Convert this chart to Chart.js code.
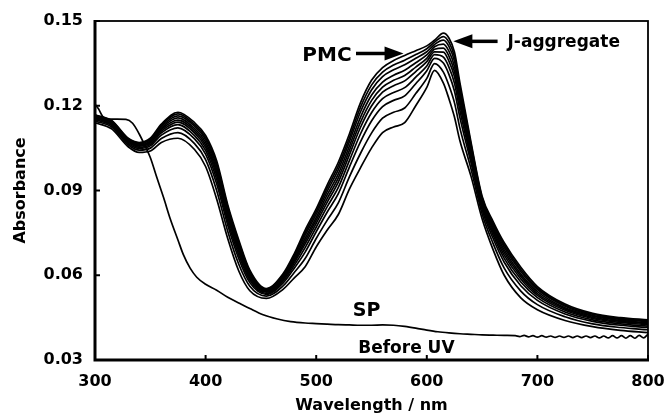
<!DOCTYPE html>
<html>
<head>
<meta charset="utf-8">
<script src="https://cdn.jsdelivr.net/npm/chart.js@4.4.1/dist/chart.umd.min.js"></script>
<style>
  html, body { margin: 0; padding: 0; background: #fff; }
</style>
</head>
<body>
<canvas id="spec" width="668" height="414"></canvas>
<script>
// 波長 (nm)
const wavelengths = [300,315,330,340,350,360,375,390,400,410,420,430,440,455,470,480,490,500,510,520,530,540,550,560,570,580,590,600,607,615,620,625,630,640,650,660,670,685,700,725,750,775,800];

// UV照射後 (下のスペクトルから順に)
const pmc1  = [.1140,.1118,.1055,.1035,.1040,.1070,.1085,.1045,.0985,.0870,.0730,.0615,.0545,.0518,.0550,.0590,.0630,.0700,.0760,.0815,.0905,.0980,.1050,.1105,.1125,.1140,.1200,.1265,.1325,.1280,.1225,.1160,.1075,.0950,.0800,.0690,.0600,.0520,.0478,.0440,.0418,.0405,.0397];
const pmc2  = [.1146,.1125,.1062,.1043,.1050,.1084,.1105,.1066,.1009,.0900,.0756,.0639,.0561,.0526,.0562,.0609,.0659,.0730,.0795,.0856,.0948,.1031,.1103,.1156,.1177,.1192,.1243,.1297,.1349,.1319,.1272,.1211,.1120,.0976,.0818,.0712,.0625,.0544,.0496,.0453,.0428,.0415,.0407];
const pmc3  = [.1151,.1130,.1067,.1049,.1058,.1096,.1122,.1083,.1029,.0924,.0778,.0659,.0574,.0532,.0572,.0624,.0682,.0754,.0824,.0889,.0983,.1072,.1146,.1197,.1219,.1235,.1278,.1324,.1368,.1351,.1311,.1252,.1157,.0998,.0832,.0730,.0646,.0563,.0511,.0463,.0437,.0423,.0415];
const pmc4  = [.1155,.1134,.1071,.1053,.1063,.1104,.1133,.1094,.1042,.0940,.0792,.0672,.0583,.0536,.0579,.0634,.0698,.0770,.0843,.0911,.1006,.1100,.1175,.1225,.1247,.1264,.1301,.1341,.1381,.1372,.1337,.1280,.1182,.1012,.0842,.0742,.0660,.0576,.0521,.0470,.0442,.0428,.0420];
const pmc5  = [.1157,.1137,.1074,.1057,.1068,.1110,.1142,.1104,.1053,.0954,.0804,.0683,.0590,.0540,.0584,.0643,.0711,.0784,.0859,.0930,.1026,.1123,.1199,.1248,.1271,.1288,.1321,.1356,.1391,.1390,.1358,.1303,.1202,.1024,.0850,.0752,.0671,.0587,.0529,.0476,.0447,.0433,.0425];
const pmc6  = [.1160,.1139,.1076,.1060,.1072,.1116,.1149,.1112,.1062,.0965,.0814,.0692,.0596,.0543,.0589,.0650,.0721,.0795,.0872,.0945,.1042,.1141,.1218,.1266,.1290,.1307,.1337,.1368,.1400,.1404,.1376,.1321,.1219,.1034,.0856,.0760,.0681,.0596,.0535,.0481,.0451,.0437,.0429];
const pmc7  = [.1162,.1141,.1078,.1062,.1075,.1121,.1157,.1119,.1071,.0975,.0824,.0701,.0602,.0545,.0593,.0656,.0731,.0805,.0885,.0959,.1057,.1159,.1237,.1284,.1308,.1326,.1352,.1380,.1409,.1418,.1393,.1339,.1235,.1044,.0862,.0768,.0690,.0604,.0542,.0485,.0455,.0440,.0432];
const pmc8  = [.1164,.1144,.1081,.1065,.1079,.1126,.1164,.1127,.1080,.0986,.0833,.0710,.0608,.0548,.0597,.0663,.0742,.0816,.0898,.0974,.1073,.1178,.1256,.1303,.1327,.1345,.1368,.1391,.1417,.1432,.1410,.1358,.1251,.1053,.0869,.0776,.0699,.0613,.0549,.0490,.0458,.0444,.0436];
const pmc9  = [.1166,.1146,.1083,.1068,.1082,.1131,.1171,.1133,.1087,.0996,.0842,.0717,.0613,.0551,.0601,.0669,.0751,.0826,.0909,.0987,.1086,.1194,.1273,.1319,.1344,.1361,.1381,.1402,.1425,.1445,.1425,.1374,.1266,.1062,.0874,.0783,.0707,.0620,.0554,.0494,.0462,.0447,.0439];
const pmc10 = [.1168,.1148,.1085,.1070,.1085,.1135,.1177,.1140,.1095,.1005,.0850,.0725,.0618,.0553,.0605,.0675,.0760,.0835,.0920,.1000,.1100,.1210,.1290,.1335,.1360,.1378,.1395,.1412,.1432,.1457,.1440,.1390,.1280,.1070,.0880,.0790,.0715,.0628,.0560,.0498,.0465,.0450,.0442];

// 照射前 (SP)
const spWavelengths = [300,303,307,312,320,328,334,340,345,350,356,362,368,375,380,386,392,400,410,420,431,440,452,465,477,490,500,510,520,530,540,550,560,570,580,590,600,610,620,630,640,650,660,670,680,684,688,692,696,700,704,708,712,716,720,724,728,732,736,740,744,748,752,756,760,764,768,772,776,780,784,788,792,796,800];
const spAbs = [.1205,.1190,.1162,.1153,.1153,.1152,.1138,.1100,.1060,.1017,.0945,.0875,.0800,.0725,.0672,.0625,.0593,.0568,.0547,.0522,.0500,.0482,.0460,.0445,.0436,.0431,.0429,.0427,.0425,.0424,.0423,.0423,.0424,.0423,.0419,.0413,.0406,.0400,.0396,.0393,.0391,.0389,.0388,.0387,.0386,.0383,.0387,.0382,.0386,.0381,.0386,.0381,.0385,.0380,.0385,.0380,.0385,.0379,.0385,.0379,.0385,.0379,.0385,.0378,.0385,.0378,.0386,.0378,.0386,.0377,.0386,.0377,.0387,.0378,.0392];

const xTicks = [300, 400, 500, 600, 700, 800];
const yTicks = [0.03, 0.06, 0.09, 0.12, 0.15];

const FONT = "'DejaVu Sans', sans-serif";

const pmcSeries = [pmc1, pmc2, pmc3, pmc4, pmc5, pmc6, pmc7, pmc8, pmc9, pmc10];
const datasets = pmcSeries.map((s, i) => ({
  label: 'PMC ' + (i + 1),
  data: wavelengths.map((w, j) => ({ x: w, y: s[j] }))
}));
datasets.push({
  label: 'SP',
  data: spWavelengths.map((w, j) => ({ x: w, y: spAbs[j] }))
});
datasets.forEach(d => {
  d.borderColor = '#000';
  d.borderWidth = 1.7;
  d.pointRadius = 0;
  d.fill = false;
  d.cubicInterpolationMode = 'monotone';
});

function arrow(ctx, x1, y, x2) {
  // x2 が矢じりの先端
  const dir = Math.sign(x2 - x1);
  const headLen = 19, headH = 7;
  ctx.lineWidth = 3.5;
  ctx.beginPath();
  ctx.moveTo(x1, y);
  ctx.lineTo(x2 - dir * headLen + dir * 2, y);
  ctx.stroke();
  ctx.beginPath();
  ctx.moveTo(x2, y);
  ctx.lineTo(x2 - dir * headLen, y - headH);
  ctx.lineTo(x2 - dir * headLen, y + headH);
  ctx.closePath();
  ctx.fill();
}

// 枠・内向き目盛・軸タイトル・注記
const decor = {
  id: 'decor',
  afterDatasetsDraw(chart) {
    const { ctx, chartArea: a, scales: { x, y } } = chart;
    ctx.save();
    ctx.strokeStyle = '#000';
    ctx.fillStyle = '#000';

    ctx.lineWidth = 2;
    xTicks.forEach(v => {
      const px = x.getPixelForValue(v);
      ctx.beginPath(); ctx.moveTo(px, a.bottom); ctx.lineTo(px, a.bottom - 5); ctx.stroke();
    });
    yTicks.forEach(v => {
      const py = y.getPixelForValue(v);
      ctx.beginPath(); ctx.moveTo(a.left, py); ctx.lineTo(a.left + 5, py); ctx.stroke();
    });

    ctx.lineWidth = 1.8;
    ctx.strokeRect(a.left, a.top, a.right - a.left, a.bottom - a.top);
    ctx.lineWidth = 3;
    ctx.beginPath();
    ctx.moveTo(a.left, a.top - 1); ctx.lineTo(a.left, a.bottom); ctx.lineTo(a.right + 1, a.bottom);
    ctx.stroke();

    // 軸タイトル
    ctx.font = 'bold 16px ' + FONT;
    ctx.textAlign = 'center';
    ctx.textBaseline = 'alphabetic';
    ctx.fillText('Wavelength / nm', (a.left + a.right) / 2, 410);
    ctx.save();
    ctx.translate(21, (a.top + a.bottom) / 2);
    ctx.rotate(-Math.PI / 2);
    ctx.textBaseline = 'middle';
    ctx.fillText('Absorbance', 0, 0);
    ctx.restore();

    // 注記
    ctx.textBaseline = 'middle';
    const pmcY = y.getPixelForValue(0.1385);
    arrow(ctx, x.getPixelForValue(536), pmcY, x.getPixelForValue(579));
    ctx.font = 'bold 20px ' + FONT;
    ctx.textAlign = 'right';
    ctx.fillText('PMC', x.getPixelForValue(532), pmcY + 2);

    const jY = y.getPixelForValue(0.1428);
    arrow(ctx, x.getPixelForValue(664), jY, x.getPixelForValue(624));
    ctx.font = 'bold 17px ' + FONT;
    ctx.textAlign = 'left';
    ctx.fillText('J-aggregate', x.getPixelForValue(673), jY + 1);

    ctx.font = 'bold 19px ' + FONT;
    ctx.fillText('SP', x.getPixelForValue(533), y.getPixelForValue(0.0472));
    ctx.font = 'bold 17px ' + FONT;
    ctx.fillText('Before UV', x.getPixelForValue(538), y.getPixelForValue(0.0341));

    ctx.restore();
  }
};

new Chart(document.getElementById('spec'), {
  type: 'line',
  data: { datasets },
  options: {
    responsive: false,
    animation: false,
    layout: { padding: { top: 21, right: 20, left: 0, bottom: 0 } },
    plugins: { legend: { display: false }, tooltip: { enabled: false } },
    scales: {
      x: {
        type: 'linear',
        min: 300,
        max: 800,
        afterBuildTicks: s => { s.ticks = xTicks.map(v => ({ value: v })); },
        afterFit: s => { s.height = 54; s.paddingLeft = 0; s.paddingRight = 0; },
        grid: { display: false, drawTicks: false },
        border: { display: false },
        ticks: {
          color: '#000',
          font: { family: FONT, size: 16, weight: 'bold' },
          padding: 12,
          maxRotation: 0,
          autoSkip: false,
          callback: v => v
        }
      },
      y: {
        min: 0.03,
        max: 0.15,
        afterBuildTicks: s => { s.ticks = yTicks.map(v => ({ value: v })); },
        afterFit: s => { s.width = 95; s.paddingTop = 0; s.paddingBottom = 0; },
        grid: { display: false, drawTicks: false },
        border: { display: false },
        ticks: {
          color: '#000',
          font: { family: FONT, size: 16, weight: 'bold' },
          padding: 12,
          autoSkip: false,
          callback: v => v.toFixed(2)
        }
      }
    }
  },
  plugins: [decor]
});
</script>
</body>
</html>
